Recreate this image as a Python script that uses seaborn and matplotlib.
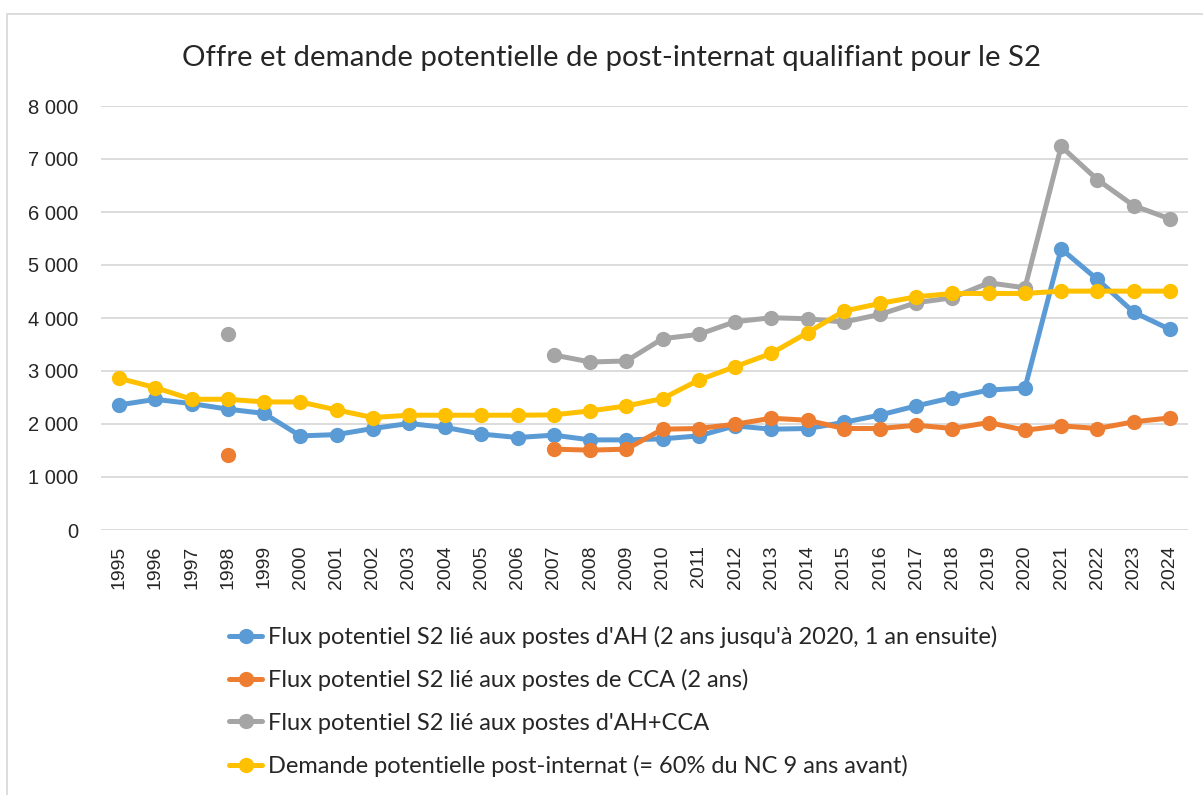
import numpy as np
import pandas as pd
import matplotlib
matplotlib.use("Agg")
import matplotlib.pyplot as plt
import seaborn as sns
from matplotlib.patches import Rectangle
from matplotlib.lines import Line2D

years = list(range(1995, 2025))
nan = np.nan

flux_ah = [2360, 2465, 2385, 2280, 2200, 1775, 1800, 1915, 2010, 1935,
           1810, 1745, 1790, 1700, 1700, 1720, 1776, 1965, 1902, 1915,
           2030, 2170, 2341, 2498, 2640, 2680, 5305, 4727, 4111, 3785]
flux_cca = [nan, nan, nan, 1418, nan, nan, nan, nan, nan, nan,
            nan, nan, 1525, 1507, 1525, 1902, 1915, 1996, 2109, 2071,
            1915, 1915, 1977, 1915, 2027, 1883, 1965, 1915, 2040, 2115]
flux_total = [nan, nan, nan, 3691, nan, nan, nan, nan, nan, nan,
              nan, nan, 3302, 3170, 3189, 3610, 3691, 3930, 4005, 3986,
              3923, 4068, 4288, 4382, 4664, 4570, 7237, 6610, 6120, 5870]
demande = [2862, 2687, 2467, 2467, 2416, 2416, 2266, 2122, 2166, 2166,
           2166, 2166, 2172, 2247, 2341, 2480, 2830, 3082, 3333, 3723,
           4130, 4275, 4400, 4463, 4463, 4463, 4507, 4507, 4507, 4507]

series_names = [
    "Flux potentiel S2 lié aux postes d'AH (2 ans jusqu'à 2020, 1 an ensuite)",
    "Flux potentiel S2 lié aux postes de CCA (2 ans)",
    "Flux potentiel S2 lié aux postes d'AH+CCA",
    "Demande potentielle post-internat (= 60% du NC 9 ans avant)",
]
series_values = [flux_ah, flux_cca, flux_total, demande]
colors = ["#5B9BD5", "#ED7D31", "#A5A5A5", "#FFC000"]
title = "Offre et demande potentielle de post-internat qualifiant pour le S2"

# Build long-form table with segment ids so gaps break the lines
rows = []
for name, vals in zip(series_names, series_values):
    seg = 0
    prev_nan = True
    for y, v in zip(years, vals):
        if np.isnan(v):
            prev_nan = True
            continue
        if prev_nan:
            seg += 1
        prev_nan = False
        rows.append({"year": y, "value": v, "series": name, "seg": f"{name}_{seg}"})
df = pd.DataFrame(rows)

sns.set_theme(style="white")
plt.rcParams["font.family"] = ["Liberation Sans", "DejaVu Sans"]

W, H = 1203, 795
fig = plt.figure(figsize=(W / 100, H / 100), dpi=100)
ax = fig.add_axes([101 / W, 1 - 530 / H, 1087 / W, 424 / H])

# chart border
fig.patches.append(Rectangle((7 / W, -0.1), 1.2, 1 - 14 / H + 0.1,
                             transform=fig.transFigure, fill=False,
                             edgecolor="#D9D9D9", linewidth=1.3, zorder=0))

LW, MS = 3.6, 11
for i, (name, col) in enumerate(zip(series_names, colors)):
    sub = df[df["series"] == name]
    sns.lineplot(data=sub, x="year", y="value", units="seg", estimator=None,
                 color=col, linewidth=LW, marker="o", markersize=MS,
                 markeredgewidth=0, ax=ax, zorder=3 + i, sort=True)

ax.set_xlim(1994.5, 2024.5)
ax.set_ylim(0, 8000)
ax.set_xticks(years)
ax.set_xticklabels([str(y) for y in years], rotation=90, fontsize=14)
yt = list(range(0, 8001, 1000))
ax.set_yticks(yt)
ax.set_yticklabels([f"{v:,}".replace(",", " ") for v in yt], fontsize=14.5)
ax.tick_params(axis="y", length=0, pad=16.5)
ax.tick_params(axis="x", length=0, pad=11)
ax.grid(axis="y", color="#D9D9D9", linewidth=1.3)
ax.set_axisbelow(True)
for s in ax.spines.values():
    s.set_visible(False)
ax.set_xlabel("")
ax.set_ylabel("")

fig.text(611 / W, 1 - 58 / H, title, ha="center", va="center", fontsize=21.2,
         family=["Lato", "DejaVu Sans"])

handles = [Line2D([0], [0], color=c, linewidth=LW, marker="o", markersize=MS,
                  markeredgewidth=0) for c in colors]
fig.legend(handles, series_names, loc="upper left",
           bbox_to_anchor=(229 / W, 1 - 626 / H), frameon=False,
           prop={"family": ["Lato", "DejaVu Sans"], "size": 17},
           handlelength=1.4, handletextpad=0.25, labelspacing=0.9,
           borderpad=0, borderaxespad=0)

fig.savefig("out.png", dpi=100)
